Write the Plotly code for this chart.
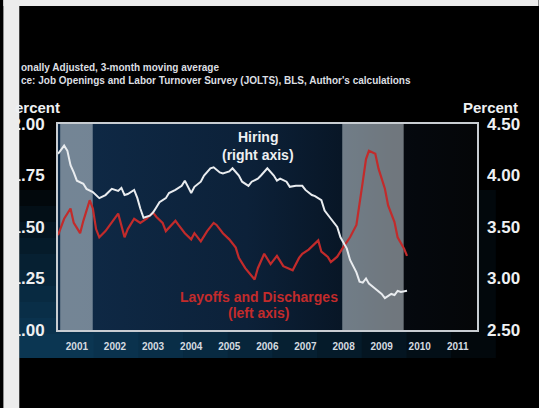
import plotly.graph_objects as go

# Hiring rate (right axis), percent, 3-month moving average
hiring_dates = [
    "2001-01", "2001-03", "2001-04", "2001-05", "2001-06", "2001-07", "2001-09", "2001-10", "2001-12",
    "2002-02", "2002-04", "2002-05", "2002-06", "2002-08", "2002-09", "2002-10", "2002-11",
    "2003-01", "2003-02", "2003-03", "2003-04", "2003-06", "2003-07", "2003-08", "2003-09", "2003-11", "2003-12",
    "2004-02", "2004-04", "2004-05", "2004-06", "2004-07", "2004-08", "2004-10", "2004-11",
    "2005-01", "2005-02", "2005-04", "2005-05", "2005-07", "2005-08", "2005-10", "2005-11",
    "2006-01", "2006-02", "2006-04", "2006-05", "2006-07", "2006-09", "2006-10", "2006-11",
    "2007-01", "2007-02", "2007-04", "2007-06", "2007-07", "2007-09", "2007-10", "2007-12",
    "2008-01", "2008-03", "2008-05", "2008-06", "2008-08", "2008-09", "2008-11", "2008-12",
    "2009-01", "2009-02", "2009-03", "2009-05", "2009-07", "2009-08", "2009-10", "2009-11", "2009-12",
    "2010-01", "2010-03",
]
hiring_rate = [
    4.21, 4.29, 4.24, 4.10, 4.03, 3.95, 3.92, 3.87, 3.84,
    3.78, 3.81, 3.84, 3.87, 3.85, 3.88, 3.81, 3.82,
    3.86, 3.78, 3.68, 3.59, 3.61, 3.64, 3.69, 3.74, 3.78, 3.83,
    3.86, 3.90, 3.95, 3.89, 3.83, 3.89, 3.94, 4.00,
    4.07, 4.08, 4.03, 4.02, 4.04, 4.07, 4.00, 3.94,
    3.90, 3.94, 3.97, 4.00, 4.07, 4.00, 3.95, 3.97,
    3.94, 3.89, 3.90, 3.90, 3.86, 3.81, 3.80, 3.76,
    3.66, 3.58, 3.50, 3.40, 3.29, 3.18, 3.06, 2.97,
    2.96, 3.00, 2.95, 2.90, 2.85, 2.81, 2.85, 2.84, 2.88,
    2.87, 2.88,
]

# Layoffs and discharges rate (left axis), percent
layoff_dates = [
    "2001-01", "2001-03", "2001-05", "2001-06", "2001-08", "2001-09", "2001-11", "2001-12",
    "2002-01", "2002-02", "2002-04", "2002-08", "2002-10", "2002-11",
    "2003-01", "2003-03", "2003-05", "2003-07", "2003-08", "2003-10", "2003-11",
    "2004-02", "2004-03", "2004-05", "2004-07", "2004-08", "2004-10", "2004-12",
    "2005-02", "2005-03", "2005-05", "2005-07", "2005-09", "2005-10", "2005-12",
    "2006-02", "2006-03", "2006-04", "2006-06", "2006-08", "2006-10", "2006-12",
    "2007-03", "2007-05", "2007-06", "2007-08", "2007-11", "2007-12",
    "2008-02", "2008-03", "2008-05", "2008-07", "2008-09", "2008-11", "2008-12",
    "2009-01", "2009-02", "2009-03", "2009-05", "2009-06", "2009-08", "2009-09", "2009-11", "2009-12",
    "2010-02", "2010-03",
]
layoff_rate = [
    1.46, 1.54, 1.59, 1.52, 1.47, 1.53, 1.63, 1.59,
    1.49, 1.45, 1.48, 1.565, 1.45, 1.49,
    1.54, 1.52, 1.54, 1.57, 1.55, 1.52, 1.48,
    1.53, 1.51, 1.47, 1.44, 1.47, 1.43, 1.48,
    1.52, 1.51, 1.47, 1.44, 1.40, 1.35, 1.30,
    1.265, 1.245, 1.30, 1.37, 1.32, 1.36, 1.31,
    1.29, 1.35, 1.37, 1.39, 1.435, 1.38,
    1.355, 1.33, 1.356, 1.405, 1.45, 1.51, 1.605,
    1.72, 1.83, 1.87, 1.856, 1.783, 1.686, 1.605, 1.524, 1.45,
    1.395, 1.36,
]

# shaded periods as drawn on the slide
shade_start = ["2001-01-22", "2008-06-18"]
shade_end = ["2001-11-30", "2010-01-28"]

x_range = ["2001-01-01", "2012-01-01"]
left_range = [1.0, 2.0]
right_range = [2.5, 4.5]
left_ticks = [1.0, 1.25, 1.5, 1.75, 2.0]
right_ticks = [2.5, 3.0, 3.5, 4.0, 4.5]

COLORS = {
    'hiring': '#e9ecef',
    'layoffs': '#c22b2b',
    'shade': 'rgba(190, 200, 206, 0.58)',
    'frame': '#c8cdd2',
    'text': '#eef0f2',
    'border': '#ececec',
}
FONT = "Liberation Sans, Arial, sans-serif"

W, H = 539, 408
ML, MR, MT, MB = 55, 62, 124, 78


def px(x):
    # pixel column -> paper x
    return (x - ML) / (W - ML - MR)


def py(y):
    # pixel row -> paper y
    return (H - MB - y) / (H - MT - MB)


fig = go.Figure()

# plot-area background: navy fading to black on the right
fig.add_trace(go.Scatter(
    x=[x_range[0], x_range[1], x_range[1], x_range[0], x_range[0]],
    y=[left_range[0], left_range[0], left_range[1], left_range[1], left_range[0]],
    fill='toself', mode='none', hoverinfo='skip', showlegend=False,
    fillgradient=dict(type='horizontal', colorscale=[
        [0.0, '#0f2a47'], [0.45, '#0c2139'], [0.68, '#081626'],
        [0.8, '#05090f'], [1.0, '#050608']]),
))

# shaded periods
for s, e in zip(shade_start, shade_end):
    fig.add_trace(go.Scatter(
        x=[s, e, e, s, s],
        y=[left_range[0], left_range[0], left_range[1], left_range[1], left_range[0]],
        fill='toself', mode='none', fillcolor=COLORS['shade'],
        hoverinfo='skip', showlegend=False,
    ))

fig.add_trace(go.Scatter(
    x=layoff_dates, y=layoff_rate, mode='lines',
    line=dict(color=COLORS['layoffs'], width=2.2),
    showlegend=False, yaxis='y',
))
fig.add_trace(go.Scatter(
    x=hiring_dates, y=hiring_rate, mode='lines',
    line=dict(color=COLORS['hiring'], width=2),
    showlegend=False, yaxis='y2',
))

# faint blue glow bottom-left of the slide, built from thin overlapping steps
glow = [dict(type='rect', xref='paper', yref='paper', layer='below',
             x0=px(16), x1=px(16 + 480 - 45 * i), y0=py(358), y1=py(190 + 16 * i),
             fillcolor='rgba(30, 100, 150, 0.08)', line=dict(width=0))
        for i in range(10)]

shapes = glow + [
    # light screenshot border
    dict(type='rect', xref='paper', yref='paper', layer='above',
         x0=px(0), x1=px(16), y0=py(H), y1=py(0),
         fillcolor=COLORS['border'], line=dict(width=0)),
    dict(type='rect', xref='paper', yref='paper', layer='above',
         x0=px(0), x1=px(W), y0=py(6), y1=py(0),
         fillcolor=COLORS['border'], line=dict(width=0)),
]


def note(text, x, y, size, color=COLORS['text'], anchor='center'):
    return dict(text=text, xref='paper', yref='paper', x=px(x), y=py(y),
                xanchor=anchor, yanchor='middle', showarrow=False,
                font=dict(family=FONT, size=size, color=color, weight='bold'))


annotations = [
    note("onally Adjusted, 3-month moving average", 16, 68, 10, '#dcdfe2', 'left'),
    note("ce: Job Openings and Labor Turnover Survey (JOLTS), BLS, Author's calculations",
         16, 80, 10, '#dcdfe2', 'left'),
    note("ercent", 59, 107, 15, anchor='right'),
    note("Percent", 491, 107, 15),
    note("Hiring", 256, 137, 14),
    note("(right axis)", 256, 155, 14),
    note("Layoffs and Discharges", 257, 297, 14, COLORS['layoffs']),
    note("(left axis)", 257, 313, 14, COLORS['layoffs']),
]

fig.update_layout(
    width=W, height=H,
    margin=dict(l=ML, r=MR, t=MT, b=MB, pad=0),
    paper_bgcolor='#000000',
    plot_bgcolor='#000000',
    shapes=shapes,
    annotations=annotations,
    showlegend=False,
    xaxis=dict(
        type='date', range=x_range, tick0='2001-07-01', dtick='M12', tickformat='%Y',
        showgrid=False, zeroline=False, ticks='', ticklabelstandoff=6,
        showline=True, mirror=True, linecolor=COLORS['frame'], linewidth=2,
        tickfont=dict(family=FONT, size=10, color='#d5dbe0', weight='bold'),
    ),
    yaxis=dict(
        range=left_range, tickvals=left_ticks, tickformat='.2f',
        showgrid=False, zeroline=False, ticks='', ticklabelstandoff=8,
        showline=True, mirror=True, linecolor=COLORS['frame'], linewidth=2,
        tickfont=dict(family=FONT, size=17, color=COLORS['text'], weight='bold'),
    ),
    yaxis2=dict(
        range=right_range, tickvals=right_ticks, tickformat='.2f',
        overlaying='y', side='right',
        showgrid=False, zeroline=False, ticks='', ticklabelstandoff=9,
        showline=False,
        tickfont=dict(family=FONT, size=17, color=COLORS['text'], weight='bold'),
    ),
)

# the page would otherwise add the browser's default 8px body margin
fig.write_html("out.html", config={'displayModeBar': False},
               post_script="document.body.style.margin = '0';")
